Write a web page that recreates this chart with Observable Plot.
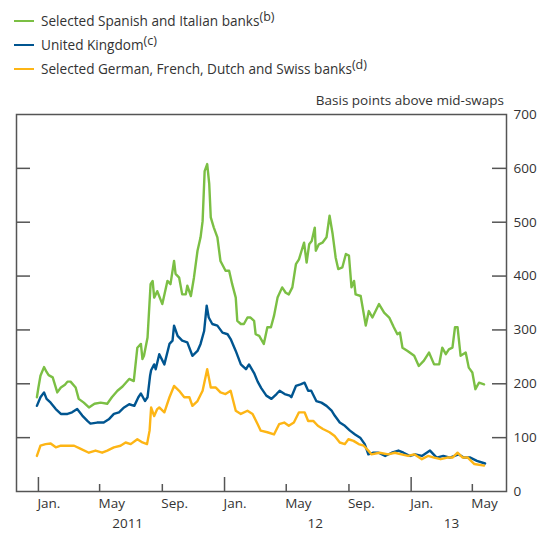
<!DOCTYPE html>
<html><head><meta charset="utf-8">
<script src="https://cdn.jsdelivr.net/npm/d3@7"></script>
<script src="https://cdn.jsdelivr.net/npm/@observablehq/plot@0.6"></script>
<style>
body{margin:0;background:#fff;font-family:"Open Sans","Noto Sans",sans-serif;color:#333;}
#wrap{position:relative;width:542px;height:534px;overflow:hidden;}
.row{position:absolute;left:0;height:18px;line-height:18px;font-size:13.6px;white-space:nowrap;}
.sw{position:absolute;left:14px;top:8px;width:20px;height:2px;}
.txt{position:absolute;left:41px;top:0;}
.txt sup{font-size:12.5px;vertical-align:5px;line-height:0;}
#unit{position:absolute;right:38px;top:91px;line-height:18px;font-size:13.5px;white-space:nowrap;z-index:2;}
#chart{position:absolute;left:0;top:100px;z-index:1;}
</style></head><body>
<div id="wrap">
  <div id="legend"></div>
  <div id="chart"></div>
  <div id="unit">Basis points above mid-swaps</div>
</div>
<script>
const seriesNames = ["Selected Spanish and Italian banks", "United Kingdom", "Selected German, French, Dutch and Swiss banks"];
const seriesNotes = ["(b)", "(c)", "(d)"];
const seriesColors = ["#7bbf44", "#005590", "#fdb515"];

const greenDates = ["2010-12-29","2011-01-01","2011-01-05","2011-01-12","2011-01-17","2011-01-21","2011-01-29","2011-02-07","2011-02-14","2011-02-22","2011-02-27","2011-03-05","2011-03-15","2011-03-21","2011-03-31","2011-04-10","2011-04-21","2011-05-03","2011-05-16","2011-05-25","2011-06-05","2011-06-15","2011-06-28","2011-07-07","2011-07-14","2011-07-21","2011-07-24","2011-07-27","2011-08-03","2011-08-09","2011-08-13","2011-08-16","2011-08-22","2011-09-01","2011-09-11","2011-09-17","2011-09-24","2011-09-27","2011-10-04","2011-10-10","2011-10-17","2011-10-20","2011-10-27","2011-11-02","2011-11-09","2011-11-15","2011-11-19","2011-11-23","2011-11-28","2011-12-02","2011-12-05","2011-12-11","2011-12-18","2011-12-24","2012-01-03","2012-01-10","2012-01-16","2012-01-23","2012-01-26","2012-02-02","2012-02-08","2012-02-15","2012-02-21","2012-02-28","2012-03-02","2012-03-09","2012-03-18","2012-03-25","2012-04-01","2012-04-07","2012-04-14","2012-04-23","2012-04-30","2012-05-06","2012-05-13","2012-05-20","2012-05-26","2012-06-02","2012-06-05","2012-06-10","2012-06-15","2012-06-20","2012-06-26","2012-06-28","2012-07-04","2012-07-11","2012-07-19","2012-07-25","2012-07-31","2012-08-06","2012-08-11","2012-08-19","2012-08-26","2012-09-01","2012-09-06","2012-09-11","2012-09-14","2012-09-24","2012-10-04","2012-10-10","2012-10-17","2012-10-30","2012-11-09","2012-11-19","2012-11-28","2012-12-05","2012-12-10","2012-12-15","2012-12-25","2013-01-07","2013-01-16","2013-01-26","2013-02-05","2013-02-15","2013-02-25","2013-03-03","2013-03-10","2013-03-16","2013-03-23","2013-03-28","2013-04-02","2013-04-08","2013-04-18","2013-04-24","2013-05-01","2013-05-07","2013-05-14","2013-05-24"];
const greenValues = [175,193,215,231,222,216,212,184,193,198,204,204,193,172,165,156,163,165,163,175,187,195,209,205,267,274,246,252,286,385,391,360,372,348,391,385,428,404,397,366,366,382,363,397,447,472,502,595,608,571,509,490,472,428,410,410,385,360,317,311,311,323,323,317,292,289,274,305,305,326,360,379,369,366,379,422,431,453,462,425,459,465,490,447,459,462,472,512,478,434,413,416,441,438,379,391,366,363,308,335,323,348,332,323,305,292,295,267,261,252,233,243,258,236,236,267,255,264,267,305,305,252,258,230,221,190,202,199];

const ukDates = ["2010-12-29","2011-01-05","2011-01-12","2011-01-17","2011-01-25","2011-02-04","2011-02-14","2011-02-27","2011-03-08","2011-03-18","2011-03-28","2011-04-07","2011-04-13","2011-04-26","2011-05-09","2011-05-19","2011-05-29","2011-06-08","2011-06-18","2011-06-28","2011-07-08","2011-07-16","2011-07-21","2011-07-29","2011-08-03","2011-08-08","2011-08-10","2011-08-16","2011-08-19","2011-08-26","2011-09-05","2011-09-15","2011-09-21","2011-09-24","2011-10-01","2011-10-10","2011-10-20","2011-10-30","2011-11-09","2011-11-15","2011-11-22","2011-11-27","2011-12-01","2011-12-08","2011-12-18","2011-12-28","2012-01-07","2012-01-13","2012-01-23","2012-02-02","2012-02-12","2012-02-18","2012-02-28","2012-03-06","2012-03-13","2012-03-23","2012-04-02","2012-04-12","2012-04-18","2012-04-28","2012-05-08","2012-05-11","2012-05-20","2012-05-29","2012-06-06","2012-06-13","2012-06-19","2012-06-29","2012-07-09","2012-07-19","2012-07-29","2012-08-04","2012-08-14","2012-08-24","2012-09-03","2012-09-13","2012-09-23","2012-10-02","2012-10-09","2012-10-19","2012-10-29","2012-11-11","2012-11-24","2012-12-07","2012-12-17","2012-12-30","2013-01-09","2013-01-22","2013-02-07","2013-02-20","2013-03-05","2013-03-18","2013-04-04","2013-04-14","2013-04-27","2013-05-10","2013-05-26"];
const ukValues = [159,175,184,172,165,153,144,144,147,153,141,131,126,128,128,134,144,147,156,162,159,175,182,168,175,215,225,236,227,255,236,274,280,308,289,280,277,252,261,274,298,345,323,311,308,295,292,283,261,236,227,236,220,204,192,178,172,181,187,181,178,175,196,199,202,187,187,168,165,159,150,141,128,122,113,106,100,88,69,72,72,66,72,76,72,66,69,66,76,63,66,63,69,63,63,57,52];

const euroDates = ["2010-12-29","2011-01-05","2011-01-15","2011-01-25","2011-02-04","2011-02-14","2011-02-27","2011-03-12","2011-03-25","2011-04-10","2011-04-23","2011-05-06","2011-05-16","2011-05-29","2011-06-11","2011-06-21","2011-07-01","2011-07-14","2011-07-24","2011-08-02","2011-08-07","2011-08-10","2011-08-16","2011-08-22","2011-08-26","2011-09-05","2011-09-15","2011-09-24","2011-10-04","2011-10-14","2011-10-24","2011-10-30","2011-11-09","2011-11-19","2011-11-28","2011-12-05","2011-12-15","2011-12-24","2012-01-03","2012-01-13","2012-01-23","2012-02-02","2012-02-15","2012-02-25","2012-03-06","2012-03-12","2012-03-25","2012-04-07","2012-04-17","2012-04-27","2012-05-06","2012-05-16","2012-05-26","2012-06-06","2012-06-13","2012-06-23","2012-07-02","2012-07-12","2012-07-25","2012-08-04","2012-08-14","2012-08-24","2012-08-31","2012-09-10","2012-09-20","2012-09-30","2012-10-09","2012-10-15","2012-10-31","2012-11-17","2012-11-30","2012-12-13","2012-12-26","2013-01-07","2013-01-22","2013-02-03","2013-02-15","2013-02-28","2013-03-13","2013-03-23","2013-04-02","2013-04-12","2013-04-22","2013-05-05","2013-05-24"];
const euroValues = [66,85,88,89,82,85,85,85,79,72,76,72,76,82,85,91,88,97,91,88,113,156,140,153,156,147,175,196,187,175,175,159,168,187,227,193,193,184,181,187,150,144,150,144,125,113,110,106,125,128,122,128,147,147,131,131,122,116,110,103,91,88,97,94,88,85,76,69,72,69,72,69,66,69,60,66,63,60,63,63,72,63,63,51,48];

const monthTickDates = ["2011-01-01","2011-05-01","2011-09-01","2012-01-01","2012-05-01","2012-09-01","2013-01-01","2013-05-01"];
const monthTickLabels = ["Jan.","May","Sep.","Jan.","May","Sep.","Jan.","May"];
const yearTickDates = ["2011-01-01","2012-01-01","2013-01-01"];
const yearLabelDates = ["2011-06-25","2012-06-27","2013-03-21"];
const yearLabels = ["2011","12","13"];
const yTicks = [0,100,200,300,400,500,600,700];

// legend
const legend = document.getElementById("legend");
const rowCenters = [21, 45, 69];
seriesNames.forEach((n, i) => {
  const r = document.createElement("div");
  r.className = "row";
  r.style.top = (rowCenters[i] - 9) + "px";
  r.innerHTML = `<span class="sw" style="background:${seriesColors[i]}"></span><span class="txt">${n}<sup>${seriesNotes[i]}</sup></span>`;
  legend.appendChild(r);
});

const parse = d3.utcParse("%Y-%m-%d");
const data = [];
[[greenDates, greenValues], [ukDates, ukValues], [euroDates, euroValues]].forEach(([ds, vs], i) => {
  ds.forEach((d, j) => data.push({series: seriesNames[i], date: parse(d), value: vs[j]}));
});
const monthTicks = monthTickDates.map((d, i) => ({date: parse(d), label: monthTickLabels[i]}));
const majorTicks = yearTickDates.map(parse);
const minorTicks = monthTicks.map(d => d.date).filter(d => !majorTicks.some(m => +m === +d));
const years = yearLabelDates.map((d, i) => ({date: parse(d), label: yearLabels[i]}));

const W = 542, H = 434, mL = 16, mR = 36, mT = 14, mB = 43;
const innerW = W - mL - mR, innerH = H - mT - mB;
const inner = yTicks.filter(t => t > 0 && t < 700);

const chart = Plot.plot({
  width: W, height: H,
  marginLeft: mL, marginRight: mR, marginTop: mT, marginBottom: mB,
  style: {fontFamily: "'Open Sans', 'Noto Sans', sans-serif", fontSize: "13.5px", color: "#333", background: "transparent", overflow: "visible"},
  x: {type: "utc", domain: [parse("2010-11-19"), parse("2013-07-07")], axis: null},
  y: {domain: [0, 700], axis: null},
  color: {domain: seriesNames, range: seriesColors},
  marks: [
    Plot.lineY(data, {x: "date", y: "value", z: "series", stroke: "series", strokeWidth: 2.4, curve: "linear"}),
    Plot.tickY(inner, {y: d => d, insetLeft: innerW - 14, stroke: "#555", strokeWidth: 1.5}),
    Plot.tickY(inner, {y: d => d, insetRight: innerW - 14, stroke: "#555", strokeWidth: 1.5}),
    Plot.tickX(majorTicks, {x: d => d, insetTop: innerH - 14, stroke: "#555", strokeWidth: 1.5}),
    Plot.tickX(minorTicks, {x: d => d, insetTop: innerH - 7, stroke: "#555", strokeWidth: 1.5}),
    Plot.frame({stroke: "#555", strokeWidth: 1.5}),
    Plot.axisY(yTicks, {anchor: "right", label: null, tickSize: 0, tickPadding: 7, fill: "#333", fontSize: 13.5}),
    Plot.text(monthTicks, {x: "date", text: "label", frameAnchor: "bottom", dy: 16, dx: -1, textAnchor: "start", fill: "#333", fontSize: 13.5}),
    Plot.text(years, {x: "date", text: "label", frameAnchor: "bottom", dy: 36, fill: "#333", fontSize: 13.5})
  ]
});
document.getElementById("chart").appendChild(chart);
</script>
</body></html>
